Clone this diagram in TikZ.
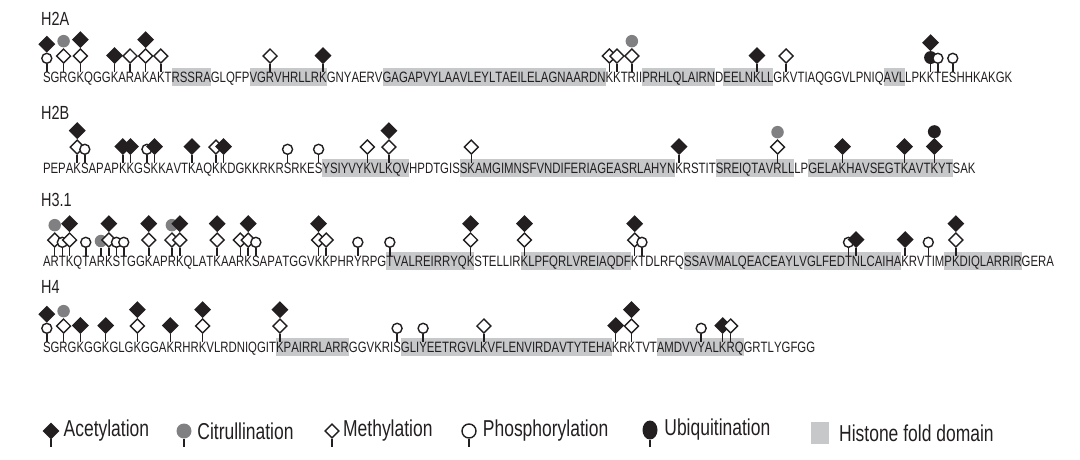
\documentclass[tikz,border=0pt]{standalone}
\usepackage{fontspec}
\setmainfont{Liberation Sans}
\newfontfamily\narrowfont[FakeStretch=0.76]{Liberation Sans}
\usepackage{tikz}
\usetikzlibrary{shapes.geometric, positioning, fit, backgrounds}
\definecolor{colInk}{RGB}{35,31,32}
\definecolor{colCit}{RGB}{128,128,130}
\definecolor{colFold}{RGB}{199,200,202}
\tikzset{
  res/.style={
    inner sep=0pt, outer sep=0pt, anchor=base west,
    font=\narrowfont\fontsize{15}{16}\selectfont, text=colInk,
    text height=14pt, text depth=3.5pt
  },
  histLabel/.style={
    inner sep=0pt, anchor=base west, text=colInk,
    font=\narrowfont\fontsize{19}{21}\selectfont
  },
  legText/.style={
    inner sep=0pt, text=colInk,
    font=\narrowfont\fontsize{23}{26}\selectfont
  },
  foldBox/.style={
    inner sep=0pt, outer sep=0pt, fill=colFold, draw=none
  },
  modBase/.style={
    inner sep=0pt, line width=1.4pt
  },
  acMark/.style={
    diamond, modBase, fill=colInk, draw=colInk,
    minimum width=15.5pt, minimum height=15.5pt
  },
  meMark/.style={
    diamond, modBase, fill=white, draw=colInk,
    minimum width=14.5pt, minimum height=14.5pt
  },
  phMark/.style={
    circle, modBase, fill=white, draw=colInk, minimum size=10pt
  },
  citMark/.style={
    circle, modBase, fill=colCit, draw=none, minimum size=12.5pt
  },
  ubMark/.style={
    circle, modBase, fill=colInk, draw=colInk, minimum size=11.5pt
  },
  stem/.style={
    draw=colInk, line width=1.5pt
  }
}

% one node per residue, named <row>-<number>
\newcount\rescount
\newcommand\seqrow[3]{%
  \rescount=0
  \def\rowname{#1}%
  \node[res] (#1-0) at (#2) {};
  \seqloop#3\relax}
\def\seqloop#1{%
  \ifx#1\relax\else
    \advance\rescount by 1
    \edef\prevname{\rowname-\the\numexpr\rescount-1\relax}%
    \edef\curname{\rowname-\the\rescount}%
    \node[res] (\curname) at (\prevname.base east) {#1};
    \expandafter\seqloop
  \fi}

% histone fold shading from residue #2 to #3
\newcommand\fold[3]{\node[foldBox, fit=(#1-#2)(#1-#3)] (#1-f#2) {};}

% stack of modification marks on one residue, lowest first
\newcommand\mods[2]{%
  \foreach \m [count=\k, remember=\k as \j (initially 0)] in {#2}{
    \ifnum\k=1
      \node[\m, anchor=south] (#1-m1) at ([yshift=18pt]#1.base) {};
    \else
      \node[\m, anchor=south] (#1-m\k) at (#1-m\j.north) {};
    \fi}
  \draw[stem] ([yshift=10.5pt]#1.base) -- (#1-m1.south);
}

\begin{document}
\begin{tikzpicture}[x=1pt, y=-1pt]
\useasboundingbox (0,0) rectangle (1080,459);

%% ==============================================================
%% Sequences
%% ==============================================================
\node[histLabel] (labH2A) at (41,25) {H2A};
\seqrow{h2a}{42,82}{SGRGKQGGKARAKAKTRSSRAGLQFPVGRVHRLLRKGNYAERVGAGAPVYLAAVLEYLTAEILELAGNAARDNKKTRIIPRHLQLAIRNDEELNKLLGKVTIAQGGVLPNIQAVLLPKKTESHHKAKGK}

\node[histLabel] (labH2B) at (41,119) {H2B};
\seqrow{h2b}{42,173}{PEPAKSAPAPKKGSKKAVTKAQKKDGKKRKRSRKESYSIYVYKVLKQVHPDTGISSKAMGIMNSFVNDIFERIAGEASRLAHYNKRSTITSREIQTAVRLLLPGELAKHAVSEGTKAVTKYTSAK}

\node[histLabel] (labH3) at (41,206) {H3.1};
\seqrow{h3}{42,266}{ARTKQTARKSTGGKAPRKQLATKAARKSAPATGGVKKPHRYRPGTVALREIRRYQKSTELLIRKLPFQRLVREIAQDFKTDLRFQSSAVMALQEACEAYLVGLFEDTNLCAIHAKRVTIMPKDIQLARRIRGERA}

\node[histLabel] (labH4) at (41,293) {H4};
\seqrow{h4}{42,352}{SGRGKGGKGLGKGGAKRHRKVLRDNIQGITKPAIRRLARRGGVKRISGLIYEETRGVLKVFLENVIRDAVTYTEHAKRKTVTAMDVVYALKRQGRTLYGFGG}

% --- histone fold domains ---
\begin{scope}[on background layer]
  \fold{h2a}{17}{21} \fold{h2a}{27}{36} \fold{h2a}{44}{73}
  \fold{h2a}{80}{89} \fold{h2a}{91}{97} \fold{h2a}{113}{115}
  \fold{h2b}{37}{48} \fold{h2b}{56}{84} \fold{h2b}{91}{101}
  \fold{h2b}{104}{122}
  \fold{h3}{45}{56} \fold{h3}{64}{78} \fold{h3}{86}{114}
  \fold{h3}{121}{131}
  \fold{h4}{31}{40} \fold{h4}{48}{76} \fold{h4}{83}{93}
\end{scope}

%% ==============================================================
%% Modifications
%% ==============================================================

% --- H2A ---
\mods{h2a-1}{phMark,acMark}
\mods{h2a-3}{meMark,citMark}
\mods{h2a-5}{meMark,acMark}
\mods{h2a-9}{acMark}
\mods{h2a-11}{meMark}
\mods{h2a-13}{meMark,acMark}
\mods{h2a-15}{meMark}
\mods{h2a-29}{meMark}
\mods{h2a-36}{acMark}
\mods{h2a-74}{meMark}
\mods{h2a-75}{meMark}
\mods{h2a-77}{meMark,citMark}
\mods{h2a-95}{acMark}
\mods{h2a-99}{meMark}
\mods{h2a-119}{ubMark,acMark}
\mods{h2a-120}{phMark}
\mods{h2a-122}{phMark}

% --- H2B ---
\mods{h2b-5}{meMark,acMark}
\mods{h2b-6}{phMark}
\mods{h2b-11}{acMark}
\mods{h2b-12}{acMark}
\mods{h2b-14}{phMark}
\mods{h2b-15}{acMark}
\mods{h2b-20}{acMark}
\mods{h2b-23}{meMark}
\mods{h2b-24}{acMark}
\mods{h2b-32}{phMark}
\mods{h2b-36}{phMark}
\mods{h2b-43}{meMark}
\mods{h2b-46}{meMark,acMark}
\mods{h2b-57}{meMark}
\mods{h2b-85}{acMark}
\mods{h2b-99}{meMark,citMark}
\mods{h2b-108}{acMark}
\mods{h2b-116}{acMark}
\mods{h2b-120}{acMark,ubMark}

% --- H3.1 ---
\mods{h3-2}{meMark,citMark}
\mods{h3-3}{phMark}
\mods{h3-4}{meMark,acMark}
\mods{h3-6}{phMark}
\mods{h3-8}{citMark}
\mods{h3-9}{meMark,acMark}
\mods{h3-10}{phMark}
\mods{h3-11}{phMark}
\mods{h3-14}{meMark,acMark}
\mods{h3-17}{meMark,citMark}
\mods{h3-18}{meMark,acMark}
\mods{h3-23}{meMark,acMark}
\mods{h3-26}{meMark}
\mods{h3-27}{meMark,acMark}
\mods{h3-28}{phMark}
\mods{h3-36}{meMark,acMark}
\mods{h3-37}{meMark}
\mods{h3-41}{phMark}
\mods{h3-45}{phMark}
\mods{h3-56}{meMark,acMark}
\mods{h3-64}{meMark,acMark}
\mods{h3-79}{meMark,acMark}
\mods{h3-80}{phMark}
\mods{h3-107}{phMark}
\mods{h3-108}{acMark}
\mods{h3-115}{acMark}
\mods{h3-118}{phMark}
\mods{h3-122}{meMark,acMark}

% --- H4 ---
\mods{h4-1}{phMark,acMark}
\mods{h4-3}{meMark,citMark}
\mods{h4-5}{acMark}
\mods{h4-8}{acMark}
\mods{h4-12}{meMark,acMark}
\mods{h4-16}{acMark}
\mods{h4-20}{meMark,acMark}
\mods{h4-31}{meMark,acMark}
\mods{h4-47}{phMark}
\mods{h4-51}{phMark}
\mods{h4-59}{meMark}
\mods{h4-77}{acMark}
\mods{h4-79}{meMark,acMark}
\mods{h4-88}{phMark}
\mods{h4-91}{acMark}
\mods{h4-92}{meMark}

%% ==============================================================
%% Legend
%% ==============================================================
\node[acMark] (legAc) at (51,431) {};
\draw[stem] (legAc.south) -- ++(0pt,-8pt) coordinate (legAcEnd);
\node[legText, right=4pt of legAc] (legAcTxt) {Acetylation};

\node[citMark, minimum size=15pt] (legCit) at (184,431) {};
\draw[stem] (legCit.south) -- ++(0pt,-8pt) coordinate (legCitEnd);
\node[legText, right=5pt of legCit] (legCitTxt) {Citrullination};

\node[meMark] (legMe) at (332,431) {};
\draw[stem] (legMe.south) -- ++(0pt,-8pt) coordinate (legMeEnd);
\node[legText, right=3pt of legMe] (legMeTxt) {Methylation};

\node[phMark, minimum size=14pt] (legPh) at (469,431) {};
\draw[stem] (legPh.south) -- ++(0pt,-8pt) coordinate (legPhEnd);
\node[legText, right=6pt of legPh] (legPhTxt) {Phosphorylation};

\node[ellipse, modBase, fill=colInk, minimum width=15pt, minimum height=19pt] (legUb) at (650,430) {};
\draw[stem] (legUb.south) -- ++(0pt,-7pt) coordinate (legUbEnd);
\node[legText, right=6pt of legUb] (legUbTxt) {Ubiquitination};

\node[foldBox, minimum width=18pt, minimum height=22pt] (legFold) at (820,433) {};
\node[legText, right=10pt of legFold] (legFoldTxt) {Histone fold domain};

\end{tikzpicture}
\end{document}
